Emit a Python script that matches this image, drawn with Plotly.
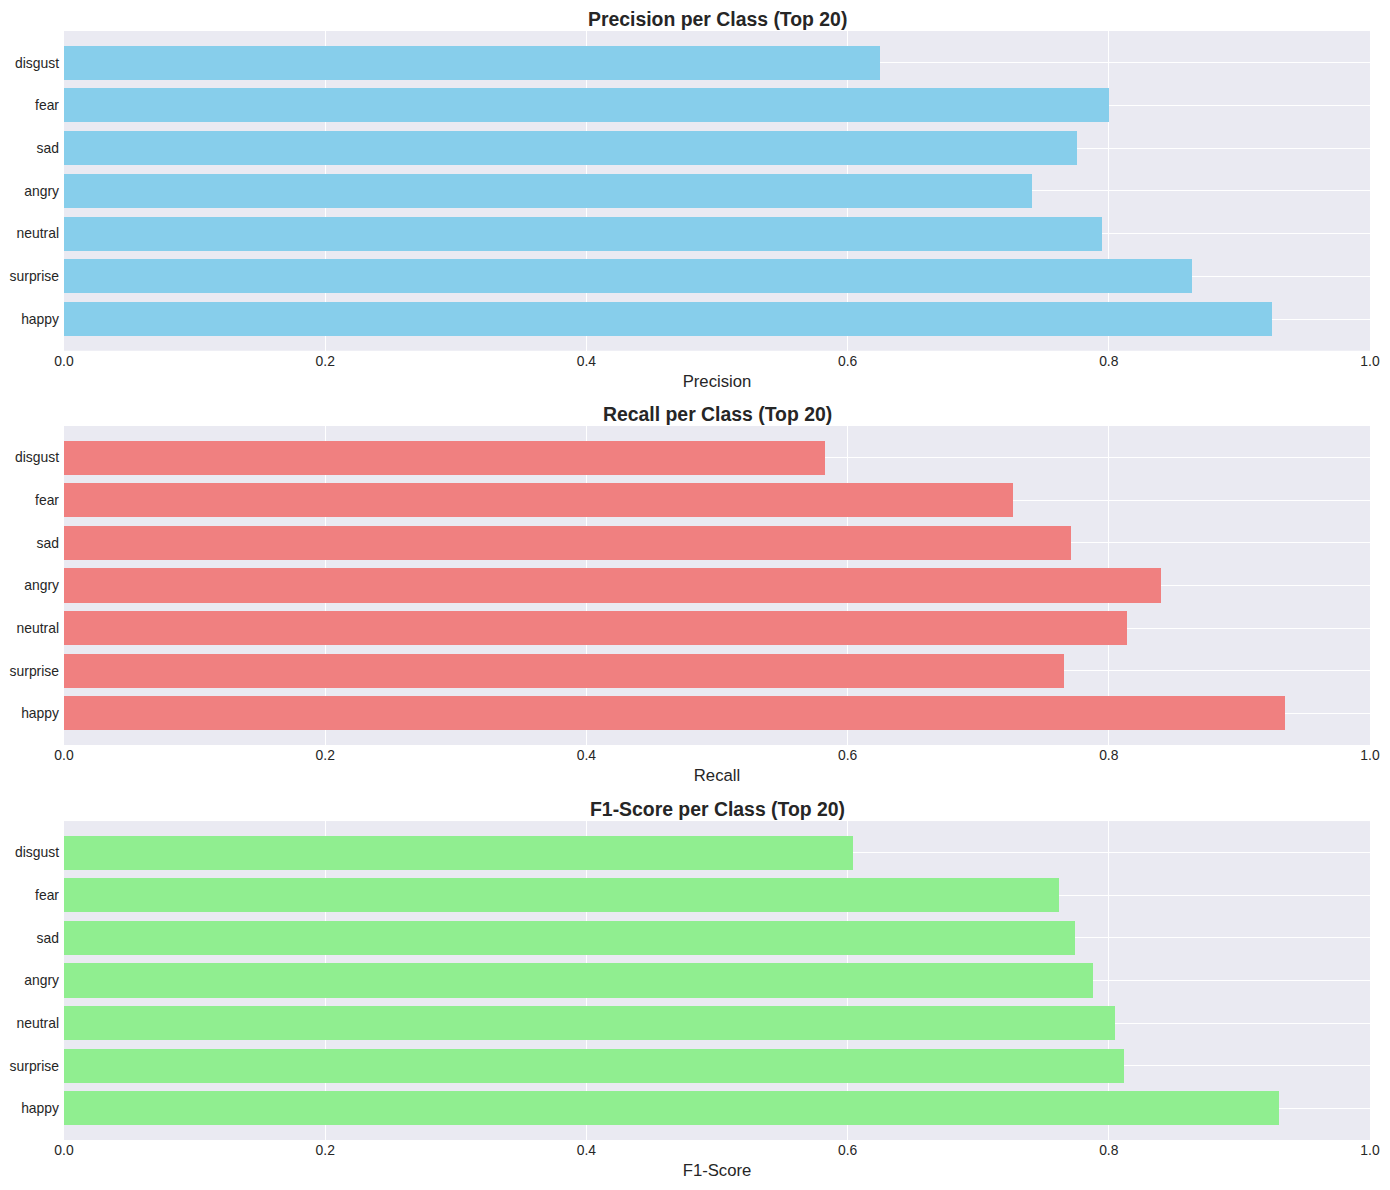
import plotly.graph_objs as go
from plotly.subplots import make_subplots

# classes, bottom to top as drawn
classes = ["happy", "surprise", "neutral", "angry", "sad", "fear", "disgust"]

precision = [0.925, 0.864, 0.795, 0.741, 0.776, 0.800, 0.625]
recall = [0.935, 0.766, 0.814, 0.840, 0.771, 0.727, 0.583]
f1_score = [0.930, 0.812, 0.805, 0.788, 0.774, 0.762, 0.604]

metric_names = ["Precision", "Recall", "F1-Score"]
metric_values = [precision, recall, f1_score]
bar_colors = ["#87CEEB", "#F08080", "#90EE90"]

x_ticks = [0.0, 0.2, 0.4, 0.6, 0.8, 1.0]
x_tick_text = ["0.0", "0.2", "0.4", "0.6", "0.8", "1.0"]

text_color = "#262626"
bg_color = "#EAEAF2"

fig = make_subplots(rows=3, cols=1)

# domains in paper coords (plot area spans 1109 px)
domains = [[0.7117, 1.0], [0.3562, 0.6438], [0.0, 0.2876]]

for i, name in enumerate(metric_names):
    fig.add_trace(
        go.Bar(
            x=metric_values[i],
            y=classes,
            orientation="h",
            width=0.8,
            marker=dict(color=bar_colors[i], line=dict(width=0)),
            name=name,
            showlegend=False,
        ),
        row=i + 1,
        col=1,
    )
    ax = "" if i == 0 else str(i + 1)
    fig.layout["xaxis" + ax].update(
        range=[0, 1],
        tickvals=x_ticks,
        ticktext=x_tick_text,
        showgrid=True,
        gridcolor="white",
        gridwidth=1,
        zeroline=False,
        showline=False,
        ticks="",
        automargin=False,
        tickfont=dict(size=13.9, color=text_color),
        title=dict(text=name, font=dict(size=16.7, color=text_color), standoff=7),
        fixedrange=True,
    )
    fig.layout["yaxis" + ax].update(
        domain=domains[i],
        type="category",
        categoryorder="array",
        categoryarray=classes,
        range=[-0.74, 6.74],
        showgrid=True,
        gridcolor="white",
        gridwidth=1,
        zeroline=False,
        showline=False,
        ticks="",
        automargin=False,
        ticklabelstandoff=4,
        tickfont=dict(size=13.9, color=text_color),
    )
    # bold title above each panel
    fig.add_annotation(
        text="<b>" + name + " per Class (Top 20)</b>",
        xref="paper",
        yref="paper",
        x=0.5,
        y=domains[i][1],
        xanchor="center",
        yanchor="bottom",
        yshift=0,
        borderpad=0,
        showarrow=False,
        font=dict(size=19.4, color=text_color),
    )

# page has an 8px body margin, so the figure is a bit smaller than the window
fig.update_layout(
    width=1374,
    height=1174,
    margin=dict(l=56, r=12, t=23, b=42),
    paper_bgcolor="white",
    plot_bgcolor=bg_color,
    font=dict(family="Liberation Sans, Arial, sans-serif", color=text_color),
    bargap=0,
)

fig.write_html("out.html")
